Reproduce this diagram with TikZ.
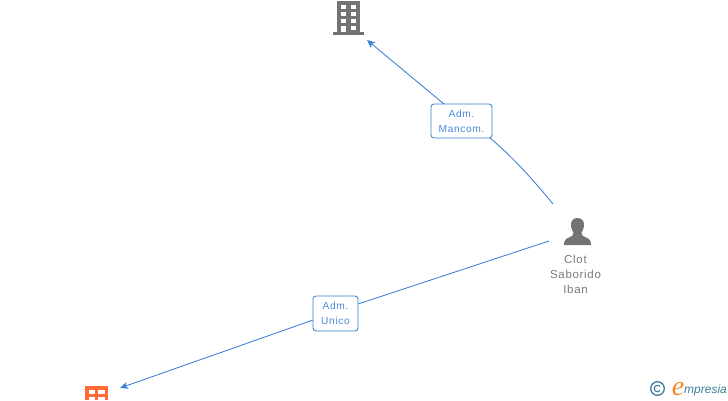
\documentclass[tikz,border=0pt]{standalone}
\usepackage{fontspec}
\setmainfont{Liberation Sans}
\newfontfamily\spaced[LetterSpace=6]{Liberation Sans}
\newfontfamily\logoserif{Liberation Serif}
\usetikzlibrary{arrows.meta}
\definecolor{edgeblue}{HTML}{3A7FD9}
\definecolor{labelblue}{HTML}{4A8BDD}
\definecolor{icongrey}{HTML}{737373}
\definecolor{textgrey}{HTML}{7A7A7A}
\definecolor{iconred}{HTML}{FF6B35}
\definecolor{logoblue}{HTML}{3F7F98}
\definecolor{logoorange}{HTML}{F08A24}
\tikzset{
  conn/.style={draw=edgeblue,line width=0.85pt},
  connarrow/.style={conn,-{Stealth[length=8pt,width=7pt,inset=2pt]}},
  edgelabel/.style={draw=edgeblue,line width=0.85pt,fill=white,rounded corners=3pt,
    text=labelblue,font=\spaced\fontsize{10.2}{15}\selectfont,align=center,inner sep=0pt},
  persontext/.style={text=textgrey,font=\spaced\fontsize{11.5}{15}\selectfont,align=center,inner sep=0pt}
}
\begin{document}
\begin{tikzpicture}[x=1pt,y=-1pt]
\useasboundingbox (0,0) rectangle (728,400);
\fill[white] (0,0) rectangle (728,400);

% named anchors
\coordinate (topbuilding) at (367,40);
\coordinate (personA) at (553,204);
\coordinate (personB) at (549,241);
\coordinate (redbuilding) at (120,388);
\coordinate (mancomIn) at (444,104);
\coordinate (mancomOut) at (490,138);
\coordinate (unicoIn) at (358,304);
\coordinate (unicoOut) at (313,320);

% connectors
\draw[connarrow] (mancomIn) -- (topbuilding);
\draw[conn] (personA) .. controls (535,182) and (513,157) .. (mancomOut);
\draw[conn] (personB) -- (unicoIn);
\draw[connarrow] (unicoOut) -- (redbuilding);

% label nodes
\node[edgelabel,minimum width=61pt,minimum height=34pt] (mancom) at (461.5,121) {Adm.\\Mancom.};
\node[edgelabel,minimum width=45pt,minimum height=35pt] (unico) at (335.5,313.5) {Adm.\\Unico};

% grey building
\fill[icongrey] (337,1) rectangle (359.5,32);
\fill[icongrey] (332.5,32) rectangle (364,35);
\foreach \yy in {4.7,11.8,18.7}{
  \fill[white] (340.7,\yy) rectangle (346,\yy+4.4);
  \fill[white] (350.5,\yy) rectangle (355.5,\yy+4.4);
}
\fill[white] (350.5,25.8) rectangle (355.5,30);
\fill[white] (341.2,25.5) rectangle (345.5,32);

% person
\fill[icongrey] (577.5,218) .. controls (572.5,218) and (570.5,222) .. (571,226)
  .. controls (571.3,229) and (572.5,231) .. (573.5,232.5)
  .. controls (574,235) and (572,236.5) .. (569,237.5)
  .. controls (565.5,238.8) and (564,240.5) .. (564,245)
  -- (591,245)
  .. controls (591,240.5) and (589.5,238.8) .. (586,237.5)
  .. controls (583,236.5) and (581,235) .. (581.5,232.5)
  .. controls (582.5,231) and (583.7,229) .. (584,226)
  .. controls (584.5,222) and (582.5,218) .. (577.5,218) -- cycle;
\node[persontext] (personname) at (575.5,274) {Clot\\Saborido\\Iban};

% red building
\fill[iconred] (85,386) rectangle (107.5,400);
\foreach \xx in {88.5,98.3}{
  \fill[white] (\xx,390) rectangle (\xx+6.2,394.3);
  \fill[white] (\xx,396.8) rectangle (\xx+6.2,400);
}

% logo
\draw[logoblue,line width=1.3pt] (657.5,388.5) circle (6.8);
\draw[logoblue,line width=1.1pt] (660,390.6) arc (40:320:3.3);
\node[text=logoorange,font=\logoserif\itshape\fontsize{28}{28}\selectfont,inner sep=0pt] (logoe) at (678,389) {e};
\node[text=logoblue,font=\itshape\fontsize{12}{13}\selectfont,inner sep=0pt,anchor=west] (logotext) at (684,390.5) {mpresia};
\end{tikzpicture}
\end{document}
